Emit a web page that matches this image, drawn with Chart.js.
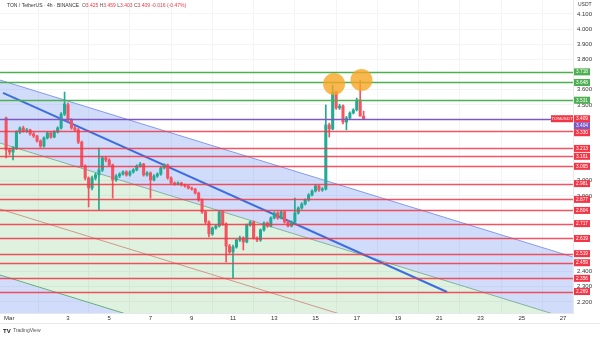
<!DOCTYPE html>
<html>
<head>
<meta charset="utf-8">
<title>TON / TetherUS 4h</title>
<script src="https://cdn.jsdelivr.net/npm/chart.js@4"></script>
<style>
  html, body { margin: 0; padding: 0; background: #fff; }
  #wrap { width: 600px; height: 338px; position: relative; }
</style>
</head>
<body>
<div id="wrap"><canvas id="tonChart" width="600" height="338"></canvas></div>
<script>
// ---- candles (4h bars, TON/USDT) ----
const barHours = 4;
const firstBarDay = 0;

const opens = [3.414, 3.203, 3.189, 3.216, 3.321, 3.348, 3.328, 3.335, 3.308, 3.295,
  3.262, 3.229, 3.282, 3.315, 3.288, 3.321, 3.348, 3.440, 3.500, 3.401,
  3.348, 3.335, 3.255, 3.097, 3.018, 2.952, 3.018, 3.038, 3.071, 3.150,
  3.137, 3.104, 3.005, 3.031, 3.044, 3.058, 3.038, 3.058, 3.071, 3.097,
  3.110, 3.038, 3.051, 3.005, 3.031, 3.044, 3.084, 3.104, 3.018, 2.985,
  2.978, 2.985, 2.972, 2.965, 2.952, 2.945, 2.919, 2.873, 2.794, 2.728,
  2.649, 2.688, 2.701, 2.794, 2.715, 2.569, 2.530, 2.563, 2.609, 2.622,
  2.596, 2.708, 2.728, 2.622, 2.609, 2.675, 2.721, 2.701, 2.754, 2.787,
  2.754, 2.794, 2.728, 2.701, 2.728, 2.787, 2.820, 2.846, 2.873, 2.906,
  2.932, 2.965, 2.939, 2.945, 3.368, 3.341, 3.585, 3.480, 3.493, 3.387,
  3.414, 3.447, 3.467, 3.533, 3.425];

const highs = [3.420, 3.215, 3.225, 3.330, 3.356, 3.360, 3.345, 3.340, 3.318, 3.300,
  3.270, 3.290, 3.322, 3.320, 3.330, 3.356, 3.450, 3.585, 3.512, 3.410,
  3.360, 3.345, 3.262, 3.105, 3.025, 3.030, 3.050, 3.216, 3.160, 3.158,
  3.145, 3.110, 3.040, 3.052, 3.065, 3.066, 3.065, 3.080, 3.105, 3.120,
  3.115, 3.060, 3.058, 3.040, 3.052, 3.092, 3.112, 3.110, 3.025, 2.992,
  2.992, 2.990, 2.978, 2.970, 2.958, 2.950, 2.925, 2.880, 2.800, 2.735,
  2.695, 2.710, 2.800, 2.800, 2.722, 2.580, 2.575, 2.615, 2.635, 2.630,
  2.715, 2.735, 2.735, 2.630, 2.682, 2.728, 2.728, 2.762, 2.795, 2.795,
  2.800, 2.800, 2.735, 2.735, 2.886, 2.828, 2.855, 2.880, 2.915, 2.940,
  2.975, 2.972, 2.955, 3.500, 3.380, 3.630, 3.592, 3.505, 3.500, 3.425,
  3.455, 3.475, 3.545, 3.664, 3.459];

const lows = [3.150, 3.170, 3.137, 3.205, 3.310, 3.320, 3.318, 3.300, 3.285, 3.255,
  3.220, 3.222, 3.275, 3.280, 3.283, 3.315, 3.340, 3.430, 3.390, 3.340,
  3.325, 3.245, 3.090, 3.005, 2.827, 2.940, 3.005, 2.807, 3.060, 3.125,
  3.095, 2.886, 2.995, 3.020, 3.036, 3.030, 3.030, 3.050, 3.065, 3.090,
  3.030, 3.030, 2.886, 2.998, 3.022, 3.036, 3.078, 3.010, 2.978, 2.970,
  2.972, 2.965, 2.958, 2.945, 2.938, 2.912, 2.865, 2.785, 2.715, 2.630,
  2.640, 2.680, 2.695, 2.705, 2.464, 2.520, 2.358, 2.555, 2.600, 2.543,
  2.590, 2.700, 2.615, 2.598, 2.600, 2.668, 2.692, 2.695, 2.748, 2.745,
  2.748, 2.720, 2.695, 2.695, 2.720, 2.780, 2.812, 2.840, 2.865, 2.900,
  2.925, 2.930, 2.930, 2.938, 3.288, 3.335, 3.470, 3.470, 3.375, 3.335,
  3.405, 3.440, 3.460, 3.430, 3.403];

const closes = [3.203, 3.189, 3.216, 3.321, 3.348, 3.328, 3.335, 3.308, 3.295, 3.262,
  3.229, 3.282, 3.315, 3.288, 3.321, 3.348, 3.440, 3.506, 3.401, 3.348,
  3.335, 3.255, 3.097, 3.018, 2.952, 3.018, 3.038, 3.071, 3.150, 3.137,
  3.104, 3.005, 3.031, 3.044, 3.058, 3.038, 3.058, 3.071, 3.097, 3.110,
  3.038, 3.051, 3.005, 3.031, 3.044, 3.084, 3.104, 3.018, 2.985, 2.978,
  2.985, 2.972, 2.965, 2.952, 2.945, 2.919, 2.873, 2.794, 2.728, 2.649,
  2.688, 2.701, 2.794, 2.715, 2.569, 2.530, 2.563, 2.609, 2.622, 2.596,
  2.708, 2.728, 2.622, 2.609, 2.675, 2.721, 2.701, 2.754, 2.787, 2.754,
  2.794, 2.728, 2.701, 2.728, 2.787, 2.820, 2.846, 2.873, 2.906, 2.932,
  2.965, 2.939, 2.945, 3.368, 3.341, 3.585, 3.480, 3.493, 3.387, 3.414,
  3.447, 3.467, 3.533, 3.425, 3.409];

// ---- horizontal levels ----
const greenLevels = [3.718, 3.648, 3.531];
const redLevels = [3.330, 3.213, 3.161, 3.095, 2.981, 2.877, 2.804, 2.717, 2.619, 2.519, 2.459, 2.356, 2.269];
const purpleLevel = 3.404;
const lastPrice = 3.409;

// ---- channels / trend line: [day, price] end points ----
const channelTop = [[-0.3, 3.664], [27.48, 2.497]];
const channelBase = [[-0.3, 3.249], [27.48, 2.081]];
const lowerMid = [[-0.3, 2.813], [27.48, 1.646]];
const lowerBase = [[-0.3, 2.378], [27.48, 1.211]];
const trendLine = [[-0.15, 3.579], [21.38, 2.266]];

// ---- highlighted highs ----
const markDays = [15.9, 17.23];
const markPrices = [3.638, 3.664];

// ---- axes ----
const xTickDays = [0.15, 3, 5, 7, 9, 11, 13, 15, 17, 19, 21, 23, 25, 27];
const xTickLabels = ['Mar', '3', '5', '7', '9', '11', '13', '15', '17', '19', '21', '23', '25', '27'];
const yTicks = [2.2, 2.3, 2.4, 2.9, 3.0, 3.5, 3.6, 3.8, 3.9, 4.0, 4.1];

const UP = '#22ab94', DOWN = '#f7525f';
const RED = '#f23645', GREEN = '#4caf50', PURPLE = '#7e57c2';
const FONT = '"Liberation Sans", Arial, sans-serif';

const barX = closes.map((_, i) => firstBarDay + i * barHours / 24);
const barColors = closes.map((c, i) => c >= opens[i] ? UP : DOWN);

function segment(pts, color, width, extra) {
  return Object.assign({
    type: 'line',
    data: pts.map(p => ({ x: p[0], y: p[1] })),
    borderColor: color,
    borderWidth: width,
    pointRadius: 0,
    fill: false,
    order: 10
  }, extra || {});
}

// scales hug the canvas edges: no room reserved for overhanging labels
function noOverhang(s) {
  s.paddingLeft = 0;
  s.paddingRight = 0;
  s.paddingTop = 0;
  s.paddingBottom = 0;
}

function drawLevels(chart) {
  const { ctx, chartArea: a, scales: { y } } = chart;
  const line = (v, color, w) => {
    const py = Math.round(y.getPixelForValue(v)) + 0.5;
    ctx.strokeStyle = color;
    ctx.lineWidth = w;
    ctx.beginPath();
    ctx.moveTo(a.left, py);
    ctx.lineTo(a.right, py);
    ctx.stroke();
  };
  ctx.save();
  redLevels.forEach(v => line(v, 'rgba(242,54,69,0.85)', 1.5));
  greenLevels.forEach(v => line(v, GREEN, 1.3));
  line(purpleLevel, PURPLE, 1.6);
  ctx.restore();
}

function drawTags(chart) {
  const { ctx, chartArea: a, scales: { y } } = chart;
  const tags = [];
  greenLevels.forEach(v => tags.push({ v, color: GREEN }));
  redLevels.forEach(v => tags.push({ v, color: RED }));
  tags.push({ v: purpleLevel, color: PURPLE });
  tags.push({ v: lastPrice, color: RED, last: true });
  tags.forEach(t => t.y = y.getPixelForValue(t.v));
  tags.sort((p, q) => p.y - q.y || (q.last ? 1 : -1));
  for (let i = 1; i < tags.length; i++) {
    if (tags[i].y < tags[i - 1].y + 7) tags[i].y = tags[i - 1].y + 7;
  }
  ctx.save();
  ctx.textAlign = 'center';
  ctx.textBaseline = 'middle';
  tags.forEach(t => {
    ctx.fillStyle = t.color;
    ctx.fillRect(a.right + 1, t.y - 3.5, 16, 7);
    ctx.fillStyle = '#fff';
    ctx.font = '4.8px ' + FONT;
    ctx.fillText(t.v.toFixed(3), a.right + 9, t.y + 0.3);
    if (t.last) {
      ctx.fillStyle = RED;
      ctx.fillRect(a.right - 22, t.y - 3.5, 22, 7);
      ctx.fillStyle = '#fff';
      ctx.font = '4.4px ' + FONT;
      ctx.fillText('TONUSDT', a.right - 11, t.y + 0.3);
    }
  });
  ctx.restore();
}

function drawHeader(chart) {
  const ctx = chart.ctx;
  ctx.save();
  ctx.textBaseline = 'middle';
  ctx.font = '5px ' + FONT;
  const parts = [
    ['TON / TetherUS · 4h · BINANCE  ', '#333'],
    ['O', '#555'], ['3.425 ', RED],
    ['H', '#555'], ['3.459 ', RED],
    ['L', '#555'], ['3.403 ', RED],
    ['C', '#555'], ['3.409 ', RED],
    ['-0.016 (-0.47%)', RED]
  ];
  let x = 7;
  parts.forEach(([s, c]) => {
    ctx.fillStyle = c;
    ctx.fillText(s, x, 6);
    x += ctx.measureText(s).width;
  });
  ctx.fillStyle = '#333';
  ctx.fillText('USDT', 578, 5);

  // footer brand
  ctx.fillStyle = '#131722';
  ctx.font = 'bold 6px ' + FONT;
  ctx.fillText('TV', 3, 331);
  ctx.fillStyle = '#555';
  ctx.font = '5px ' + FONT;
  ctx.fillText('TradingView', 13, 331);

  ctx.strokeStyle = '#e6e8ee';
  ctx.lineWidth = 1;
  ctx.beginPath();
  ctx.moveTo(0, 323.5);
  ctx.lineTo(600, 323.5);
  ctx.stroke();
  ctx.restore();
}

const overlay = {
  id: 'overlay',
  beforeDatasetDraw(chart, args) {
    if (chart.data.datasets[args.index].type === 'bubble') drawLevels(chart);
  },
  afterDraw(chart) {
    drawTags(chart);
    drawHeader(chart);
  }
};

new Chart(document.getElementById('tonChart'), {
  type: 'bar',
  data: {
    datasets: [
      segment(channelTop, 'rgba(110,135,230,0.8)', 1, { fill: '+1', backgroundColor: 'rgba(100,140,240,0.3)', order: 13 }),
      segment(channelBase, 'rgba(120,175,150,0.9)', 1, { fill: '+2', backgroundColor: 'rgba(76,175,80,0.18)', order: 12 }),
      segment(lowerMid, 'rgba(205,130,120,0.8)', 1, { order: 11 }),
      segment(lowerBase, 'rgba(90,170,110,0.9)', 1, { fill: 'start', backgroundColor: 'rgba(100,140,240,0.3)', order: 11 }),
      segment(trendLine, '#3d6ee0', 2, { order: 9 }),
      {
        type: 'bar',
        data: barX.map((x, i) => ({ x, y: [lows[i], highs[i]] })),
        backgroundColor: barColors,
        barThickness: 1,
        grouped: false,
        order: 5
      },
      {
        type: 'bar',
        data: barX.map((x, i) => ({ x, y: [opens[i], closes[i]] })),
        backgroundColor: barColors,
        barThickness: 2.4,
        minBarLength: 1,
        grouped: false,
        order: 4
      },
      {
        type: 'bubble',
        data: markDays.map((x, i) => ({ x, y: markPrices[i], r: 11 })),
        backgroundColor: 'rgba(247,166,35,0.8)',
        borderWidth: 0,
        order: 0
      }
    ]
  },
  options: {
    responsive: false,
    devicePixelRatio: 1,
    animation: false,
    layout: { padding: 0, autoPadding: false },
    plugins: { legend: { display: false }, tooltip: { enabled: false } },
    scales: {
      x: {
        type: 'linear',
        min: -0.297,
        max: 27.485,
        offset: false,
        afterBuildTicks: s => { s.ticks = xTickDays.map(v => ({ value: v })); },
        afterFit: s => { s.height = 25; noOverhang(s); },
        ticks: {
          callback: (v, i) => xTickLabels[i],
          font: { family: FONT, size: 6 },
          color: '#333',
          padding: 2,
          maxRotation: 0,
          autoSkip: false
        },
        grid: { color: '#f3f4f7', drawTicks: false },
        border: { color: '#e6e8ee' }
      },
      y: {
        position: 'right',
        min: 2.1274,
        max: 4.1921,
        afterBuildTicks: s => { s.ticks = yTicks.map(v => ({ value: v })); },
        afterFit: s => { s.width = 27; noOverhang(s); },
        ticks: {
          callback: v => v.toFixed(3),
          font: { family: FONT, size: 6 },
          color: '#333',
          padding: 4
        },
        grid: { color: '#f3f4f7', drawTicks: false },
        border: { color: '#e6e8ee' }
      }
    }
  },
  plugins: [overlay]
});
</script>
</body>
</html>
